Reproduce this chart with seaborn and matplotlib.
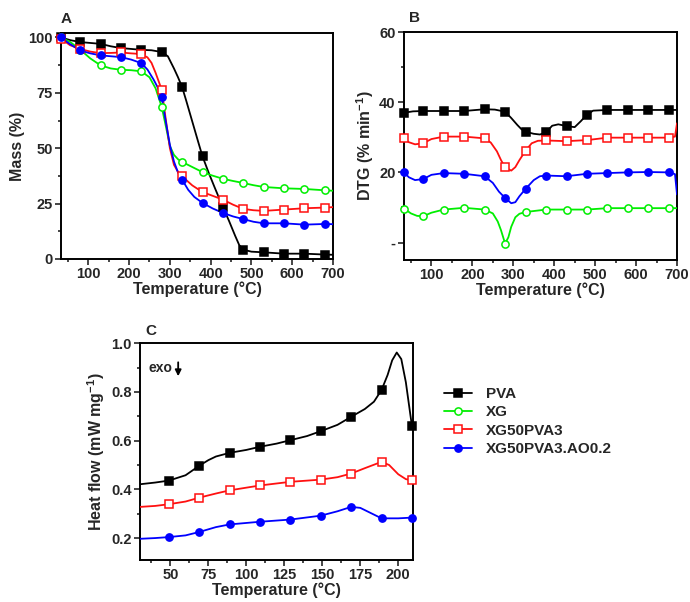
import numpy as np
import pandas as pd
import matplotlib
matplotlib.use("Agg")
import matplotlib.pyplot as plt
from matplotlib.ticker import MultipleLocator, FixedLocator, FixedFormatter
from matplotlib.lines import Line2D
import seaborn as sns

sns.set_style("ticks")
plt.rcParams["font.family"] = ["Liberation Sans", "DejaVu Sans"]
plt.rcParams["font.weight"] = "bold"
plt.rcParams["axes.labelweight"] = "bold"
plt.rcParams["mathtext.fontset"] = "custom"
plt.rcParams["mathtext.rm"] = "Liberation Sans:bold"
plt.rcParams["mathtext.it"] = "Liberation Sans:bold"
plt.rcParams["mathtext.bf"] = "Liberation Sans:bold"

# ---------------- TGA: mass (%) vs temperature ----------------
A_PVA_T = [33, 55, 80, 105, 130, 155, 180, 205, 230, 255, 280, 295, 310, 320, 330, 340, 355,
           370, 380, 395, 410, 420, 430, 445, 460, 470, 480, 500, 530, 580, 630, 680, 700]
A_PVA = [100, 98.8, 97.9, 97.5, 97.1, 96.0, 95.2, 94.8, 94.4, 94.2, 93.4, 91.5, 86.0, 82.0, 77.6,
         71.5, 62.0, 52.5, 46.3, 39.0, 32.2, 27.8, 23.5, 17.2, 10.5, 6.3, 4.2, 3.3, 3.0, 2.4, 2.4, 2.0, 1.9]

A_XG_T = [33, 55, 80, 105, 130, 155, 180, 205, 230, 250, 265, 280, 290, 300, 310, 320, 330, 355,
          380, 405, 430, 455, 480, 505, 530, 580, 630, 680, 700]
A_XG = [100, 98.0, 94.5, 90.5, 87.4, 86.0, 85.4, 85.2, 84.7, 82.0, 77.0, 68.6, 60.0, 51.0, 47.0,
        45.0, 43.8, 41.5, 39.2, 37.6, 36.2, 35.2, 34.3, 33.3, 32.5, 31.9, 31.6, 31.0, 30.8]

A_XGP_T = [33, 55, 80, 105, 130, 155, 180, 205, 230, 245, 255, 265, 280, 290, 300, 310, 320, 330,
           355, 380, 405, 430, 455, 480, 505, 530, 580, 630, 680, 700]
A_XGP = [99.5, 96.5, 94.8, 93.6, 92.9, 93.0, 93.2, 92.8, 92.5, 91.0, 88.5, 84.0, 76.4, 63.0, 50.0,
         42.5, 39.3, 37.3, 33.2, 30.2, 28.5, 26.8, 24.5, 22.6, 22.0, 21.7, 22.3, 22.9, 23.2, 23.4]

A_AO_T = [33, 55, 80, 105, 130, 155, 180, 205, 230, 245, 260, 270, 280, 290, 300, 310, 320, 330,
          345, 360, 380, 405, 430, 455, 480, 505, 530, 580, 630, 680, 700]
A_AO = [100, 97.0, 94.1, 92.8, 91.9, 91.5, 91.1, 90.0, 88.4, 85.5, 81.0, 77.5, 72.9, 62.0, 51.5,
        44.0, 39.0, 35.8, 31.2, 28.0, 25.3, 22.8, 20.8, 19.2, 18.0, 16.8, 16.1, 16.1, 15.5, 15.8, 15.7]

A_MARK_T = [33, 80, 130, 180, 230, 280, 330, 380, 430, 480, 530, 580, 630, 680]

# ---------------- DTG (% min-1) vs temperature ----------------
B_PVA_T = [33, 55, 80, 130, 180, 230, 255, 280, 295, 310, 320, 330, 350, 365, 380, 395, 410, 430,
           450, 465, 480, 495, 530, 580, 630, 680, 700]
B_PVA = [37.0, 37.4, 37.5, 37.5, 37.5, 38.0, 37.9, 37.3, 35.5, 33.5, 32.3, 31.6, 31.0, 30.8, 31.4,
         33.3, 33.7, 33.2, 32.9, 34.6, 36.5, 37.6, 37.8, 37.8, 37.8, 37.8, 37.8]

B_XG_T = [33, 50, 65, 80, 100, 130, 180, 230, 250, 262, 270, 280, 288, 295, 305, 315, 330, 380,
          430, 480, 530, 580, 630, 680, 700]
B_XG = [9.7, 8.3, 7.6, 7.5, 8.5, 9.4, 9.9, 9.4, 8.3, 6.0, 3.5, -0.3, 1.5, 4.5, 7.2, 8.2, 8.7, 9.4,
        9.4, 9.4, 9.8, 9.8, 9.8, 9.8, 9.8]

B_XGP_T = [33, 45, 60, 80, 100, 130, 180, 230, 245, 260, 270, 280, 295, 305, 315, 330, 345, 360,
           380, 430, 480, 530, 580, 630, 680, 695, 700]
B_XGP = [29.7, 28.6, 28.0, 28.3, 29.5, 30.2, 30.2, 29.7, 28.5, 26.0, 23.5, 21.4, 20.5, 21.5, 23.5,
         26.2, 28.3, 29.0, 29.1, 28.9, 29.2, 29.9, 29.9, 29.9, 29.9, 30.2, 34.0]

B_AO_T = [33, 45, 60, 80, 100, 130, 180, 230, 250, 265, 280, 295, 305, 315, 330, 350, 365, 380,
          430, 480, 530, 580, 630, 680, 695, 700]
B_AO = [20.0, 18.6, 17.8, 18.1, 19.3, 19.8, 19.6, 18.9, 17.0, 14.5, 12.7, 11.2, 11.5, 13.2, 15.3,
        17.8, 18.9, 19.1, 18.9, 19.6, 19.8, 20.0, 20.1, 20.0, 19.5, 13.7]

B_MARK_T = A_MARK_T

# ---------------- DSC heat flow (mW mg-1) vs temperature ----------------
C_PVA_T = [30, 40, 49, 60, 69, 75, 80, 89, 100, 109, 120, 129, 140, 149, 160, 169, 178, 184, 189,
           193, 196, 199, 202, 205, 209]
C_PVA = [0.421, 0.428, 0.436, 0.458, 0.497, 0.520, 0.535, 0.550, 0.562, 0.575, 0.588, 0.602, 0.619,
         0.639, 0.665, 0.698, 0.730, 0.760, 0.808, 0.870, 0.930, 0.962, 0.935, 0.840, 0.660]

C_XGP_T = [30, 40, 49, 60, 69, 80, 89, 109, 129, 149, 160, 169, 178, 189, 194, 200, 205, 209]
C_XGP = [0.328, 0.332, 0.339, 0.350, 0.366, 0.383, 0.396, 0.416, 0.431, 0.440, 0.450, 0.465,
         0.487, 0.513, 0.500, 0.462, 0.442, 0.437]

C_AO_T = [30, 40, 49, 60, 69, 80, 89, 109, 129, 149, 160, 169, 175, 189, 200, 209]
C_AO = [0.197, 0.200, 0.204, 0.211, 0.225, 0.245, 0.256, 0.267, 0.276, 0.292, 0.310, 0.328,
        0.324, 0.281, 0.281, 0.284]

C_MARK_T = [49, 69, 89, 109, 129, 149, 169, 189, 209]

SAMPLES = ["PVA", "XG", "XG50PVA3", "XG50PVA3.AO0.2"]
STYLE = {
    "PVA": dict(color="black", marker="s", mfc="black"),
    "XG": dict(color="#00ee00", marker="o", mfc="white"),
    "XG50PVA3": dict(color="#ff1010", marker="s", mfc="white"),
    "XG50PVA3.AO0.2": dict(color="#0000ff", marker="o", mfc="#0000ff"),
}
LW = 1.3
MS = 5.2


def draw(ax, sample, temps, values, mark_t):
    st = STYLE[sample]
    df = pd.DataFrame({"T": temps, "v": values})
    sns.lineplot(data=df, x="T", y="v", ax=ax, color=st["color"], lw=LW,
                 errorbar=None, sort=False, zorder=3)
    mk = df[df["T"].isin(mark_t)]
    sns.lineplot(data=mk, x="T", y="v", ax=ax, color=st["color"], linestyle="",
                 marker=st["marker"], markersize=MS, markerfacecolor=st["mfc"],
                 markeredgecolor=st["color"], markeredgewidth=1.1,
                 errorbar=None, clip_on=False, zorder=4)


def style_axes(ax):
    for s in ax.spines.values():
        s.set_linewidth(1.4)
        s.set_color("black")
    ax.tick_params(which="both", direction="out", top=False, right=False,
                   width=1.2, labelsize=10.5, pad=2)
    ax.tick_params(which="major", length=4)
    ax.tick_params(which="minor", length=2.5)
    for lab in ax.get_xticklabels() + ax.get_yticklabels():
        lab.set_fontweight("bold")
    ax.set_xlabel("Temperature (°C)", fontsize=11.5, fontweight="bold", labelpad=0)


fig = plt.figure(figsize=(6.9, 6.02), dpi=100)
axA = fig.add_axes([0.0884, 0.5698, 0.3942, 0.3754])
axB = fig.add_axes([0.5855, 0.5680, 0.3957, 0.3787])
axC = fig.add_axes([0.2029, 0.0698, 0.3952, 0.3600])

# Panel A
draw(axA, "PVA", A_PVA_T, A_PVA, A_MARK_T)
draw(axA, "XG", A_XG_T, A_XG, A_MARK_T)
draw(axA, "XG50PVA3", A_XGP_T, A_XGP, A_MARK_T)
draw(axA, "XG50PVA3.AO0.2", A_AO_T, A_AO, A_MARK_T)
axA.set_xlim(33, 700)
axA.set_ylim(0, 102)
axA.xaxis.set_major_locator(FixedLocator([100, 200, 300, 400, 500, 600, 700]))
axA.xaxis.set_minor_locator(MultipleLocator(50))
axA.yaxis.set_major_locator(MultipleLocator(25))
axA.yaxis.set_minor_locator(MultipleLocator(12.5))
style_axes(axA)
axA.set_ylabel("Mass (%)", fontsize=11.5, fontweight="bold", labelpad=2)
axA.text(0.0, 1.03, "A", transform=axA.transAxes, fontsize=11, fontweight="bold",
         ha="left", va="bottom")

# Panel B
draw(axB, "PVA", B_PVA_T, B_PVA, B_MARK_T)
draw(axB, "XG50PVA3", B_XGP_T, B_XGP, B_MARK_T)
draw(axB, "XG50PVA3.AO0.2", B_AO_T, B_AO, B_MARK_T)
draw(axB, "XG", B_XG_T, B_XG, B_MARK_T)
axB.set_xlim(33, 700)
axB.set_ylim(-5, 60)
axB.xaxis.set_major_locator(FixedLocator([100, 200, 300, 400, 500, 600, 700]))
axB.xaxis.set_minor_locator(MultipleLocator(50))
axB.yaxis.set_major_locator(FixedLocator([0, 20, 40, 60]))
axB.yaxis.set_major_formatter(FixedFormatter(["-", "20", "40", "60"]))
axB.yaxis.set_minor_locator(FixedLocator([10, 30, 50]))
style_axes(axB)
axB.set_ylabel("DTG (% min$^{-1}$)", fontsize=11.5, fontweight="bold", labelpad=2)
axB.text(0.02, 1.03, "B", transform=axB.transAxes, fontsize=11, fontweight="bold",
         ha="left", va="bottom")

# Panel C
draw(axC, "PVA", C_PVA_T, C_PVA, C_MARK_T)
draw(axC, "XG50PVA3", C_XGP_T, C_XGP, C_MARK_T)
draw(axC, "XG50PVA3.AO0.2", C_AO_T, C_AO, C_MARK_T)
axC.set_xlim(30, 209.5)
axC.set_ylim(0.11, 1.0)
axC.xaxis.set_major_locator(MultipleLocator(25))
axC.xaxis.set_minor_locator(MultipleLocator(12.5))
axC.yaxis.set_major_locator(MultipleLocator(0.2))
axC.yaxis.set_minor_locator(MultipleLocator(0.1))
axC.yaxis.set_major_formatter(plt.FuncFormatter(lambda v, p: f"{v:.1f}"))
style_axes(axC)
axC.set_ylabel("Heat flow (mW mg$^{-1}$)", fontsize=11.5, fontweight="bold", labelpad=3)
axC.text(0.02, 1.025, "C", transform=axC.transAxes, fontsize=11, fontweight="bold",
         ha="left", va="bottom")
axC.text(0.03, 0.885, "exo", transform=axC.transAxes, fontsize=10, fontweight="bold",
         ha="left", va="center")
axC.annotate("", xy=(0.14, 0.835), xytext=(0.14, 0.925), xycoords="axes fraction",
             arrowprops=dict(arrowstyle="-|>", color="black", lw=1.3, mutation_scale=9))

# Shared legend
handles = []
for s in SAMPLES:
    st = STYLE[s]
    handles.append(Line2D([], [], color=st["color"], lw=LW, marker=st["marker"], markersize=MS,
                          markerfacecolor=st["mfc"], markeredgecolor=st["color"],
                          markeredgewidth=1.1))
fig.legend(handles, SAMPLES, loc="upper left", bbox_to_anchor=(0.635, 0.367),
           frameon=False, fontsize=11, handlelength=1.8, handletextpad=0.9,
           labelspacing=0.28, borderaxespad=0, prop={"weight": "bold", "size": 11})

fig.savefig("out.png", dpi=100)
